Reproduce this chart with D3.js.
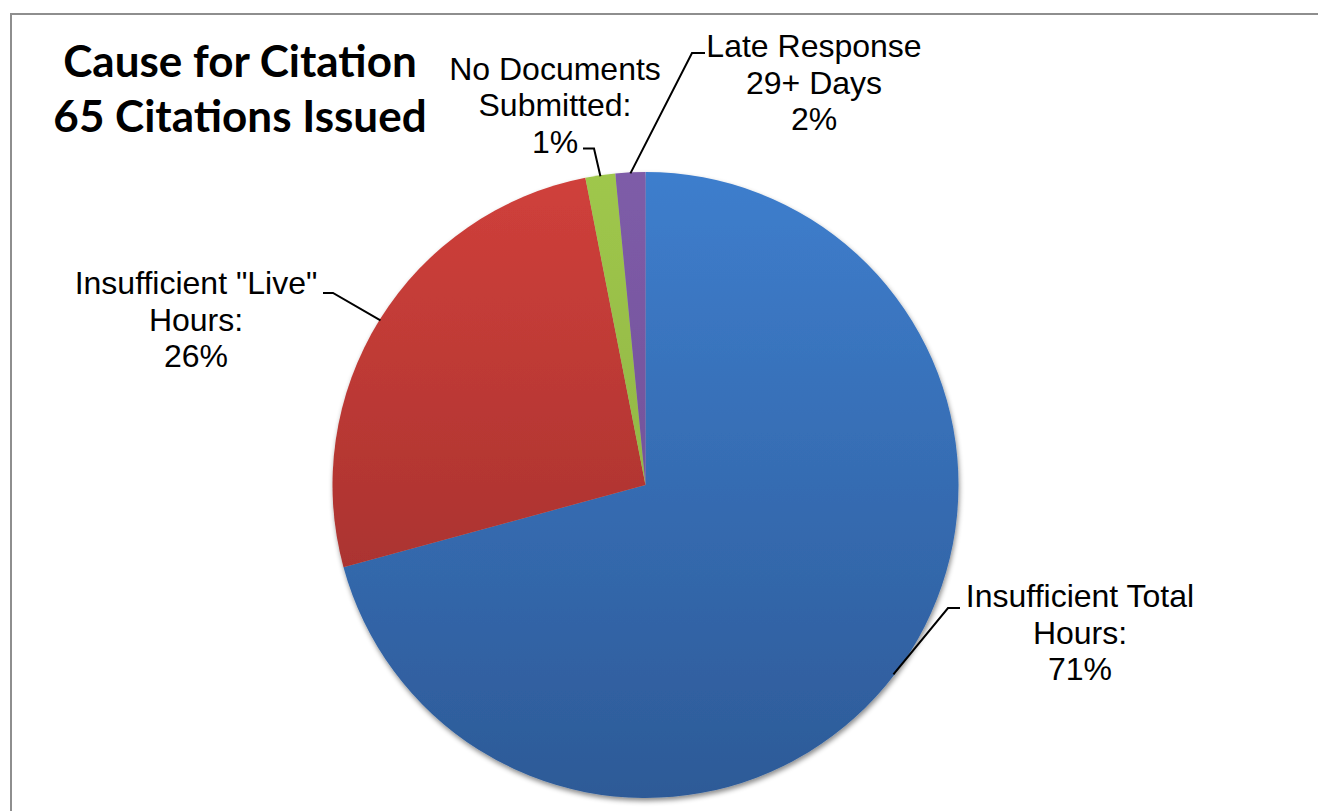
<!DOCTYPE html>
<html>
<head>
<meta charset="utf-8">
<script src="https://cdn.jsdelivr.net/npm/d3@7"></script>
<style>
  html, body { margin: 0; padding: 0; background: #fff; }
  svg { display: block; }
</style>
</head>
<body>
<svg id="chart" width="1318" height="811"></svg>
<script>
// ---- data ----
const categories = ["Insufficient Total Hours", "Insufficient \"Live\" Hours", "No Documents Submitted", "Late Response 29+ Days"];
const citations = [46, 17, 1, 1];
const percentLabels = ["71%", "26%", "1%", "2%"];
const labelLines = [
  ["Insufficient Total", "Hours:"],
  ["Insufficient \"Live\"", "Hours:"],
  ["No Documents", "Submitted:"],
  ["Late Response", "29+ Days"]
];
const titleLines = ["Cause for Citation", "65 Citations Issued"];

// ---- styles / layout ----
const colorsTop = ["#3E7ECD", "#D0403B", "#9FC74C", "#7E5CA8"];
const colorsBottom = ["#2D5A97", "#962C29", "#87A83F", "#6A4B8F"];
const cx = 645.5, cy = 485, R = 313;
const fontLabel = "'Liberation Sans', Arial, sans-serif";
const labelPos = [
  {x: 1080, y: 607, hook: [[960, 608], [948, 608]]},
  {x: 196,  y: 294, hook: [[323, 293], [333, 293]]},
  {x: 555,  y: 79.5, hook: [[583, 148.5], [594, 148.5]]},
  {x: 814,  y: 57,  hook: [[705, 53], [692, 53]]}
];

const svg = d3.select("#chart");
const defs = svg.append("defs");

// border
svg.append("rect")
  .attr("x", 11).attr("y", 14).attr("width", 1400).attr("height", 900)
  .attr("fill", "none").attr("stroke", "#8E8E8E").attr("stroke-width", 2);

// gradients (in the pie group's coordinate space)
colorsTop.forEach((c, i) => {
  const gr = defs.append("linearGradient")
    .attr("id", "grad" + i)
    .attr("gradientUnits", "userSpaceOnUse")
    .attr("x1", 0).attr("y1", -R).attr("x2", 0).attr("y2", R);
  gr.append("stop").attr("offset", "0%").attr("stop-color", c);
  gr.append("stop").attr("offset", "100%").attr("stop-color", colorsBottom[i]);
});

// shadow
const f = defs.append("filter").attr("id", "shadow")
  .attr("x", "-10%").attr("y", "-10%").attr("width", "120%").attr("height", "120%");
f.append("feDropShadow").attr("dx", 1).attr("dy", 3).attr("stdDeviation", 2.5)
  .attr("flood-color", "#000").attr("flood-opacity", 0.45);

const pie = d3.pie().sort(null).value(d => d);
const arcs = pie(citations);
const arc = d3.arc().innerRadius(0).outerRadius(R);
const edgeArc = d3.arc().innerRadius(R - 1).outerRadius(R - 1);

const g = svg.append("g").attr("transform", `translate(${cx},${cy})`);
g.append("g").attr("filter", "url(#shadow)")
  .selectAll("path")
  .data(arcs)
  .join("path")
  .attr("d", arc)
  .attr("fill", (d, i) => `url(#grad${i})`);

// leader lines
arcs.forEach((d, i) => {
  const p = edgeArc.centroid(d);
  const lp = labelPos[i];
  const pts = [lp.hook[0], lp.hook[1], [p[0] + cx, p[1] + cy]];
  svg.append("path")
    .attr("d", d3.line()(pts))
    .attr("fill", "none")
    .attr("stroke", "#000")
    .attr("stroke-width", 2);
});

// labels
const lh = 36.5;
arcs.forEach((d, i) => {
  const lp = labelPos[i];
  const lines = labelLines[i].concat([percentLabels[i]]);
  const t = svg.append("text")
    .attr("text-anchor", "middle")
    .attr("font-family", fontLabel)
    .attr("font-size", 32)
    .attr("fill", "#000");
  lines.forEach((s, k) => {
    t.append("tspan").attr("x", lp.x).attr("y", lp.y + k * lh).text(s);
  });
});

// title
const title = svg.append("text")
  .attr("text-anchor", "middle")
  .attr("font-family", "Lato, 'Open Sans', sans-serif")
  .attr("font-weight", "bold")
  .attr("font-size", 44)
  .attr("fill", "#000");
titleLines.forEach((s, k) => {
  title.append("tspan").attr("x", 240).attr("y", 77 + k * 55).text(s);
});
</script>
</body>
</html>
